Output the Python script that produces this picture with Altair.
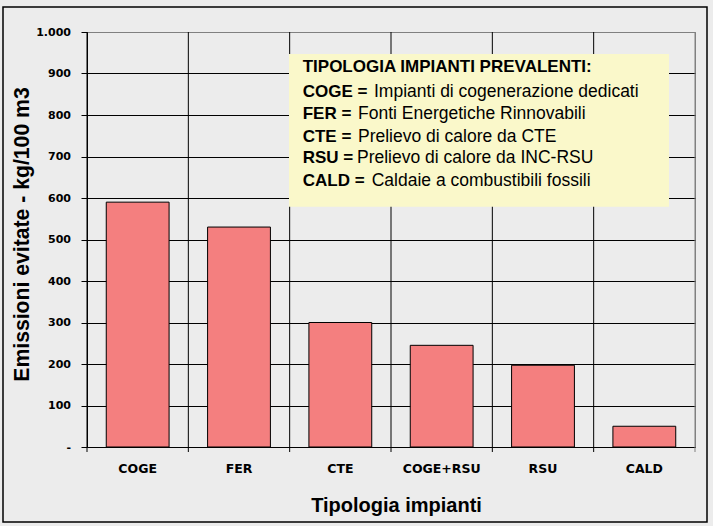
import altair as alt
import pandas as pd

# ---- data ----
categories = ["COGE", "FER", "CTE", "COGE+RSU", "RSU", "CALD"]
values = [590, 530, 300, 245, 197, 50]
y_ticks = [0, 100, 200, 300, 400, 500, 600, 700, 800, 900, 1000]
legend_bold = ["TIPOLOGIA IMPIANTI PREVALENTI:", "COGE =", "FER =", "CTE =", "RSU =", "CALD ="]
legend_rest = ["", "Impianti di cogenerazione dedicati", "Fonti Energetiche Rinnovabili",
               "Prelievo di calore da CTE", "Prelievo di calore da INC-RSU",
               "Caldaie a combustibili fossili"]
x_title = "Tipologia impianti"
y_title = "Emissioni evitate - kg/100 m3"

# ---- layout constants ----
W, H = 608, 415
legend_x0 = 215.7
legend_rest_x = [0, 287, 271, 271, 270, 284.7]
legend_base_y = [40.3, 64.7, 87, 109.7, 131.3, 153.7]

df = pd.DataFrame({"cat": categories, "val": values})
one = pd.DataFrame({"k": [0]})

AX_FONT = "DejaVu Sans"
TXT_FONT = "Liberation Sans"

rules = alt.Chart(df).mark_rule(color="black", strokeWidth=1).encode(
    x=alt.X("cat:N", sort=categories,
            scale=alt.Scale(domain=categories, paddingInner=0, paddingOuter=0),
            bandPosition=0, axis=None),
    y=alt.value(0),
    y2=alt.value(H + 5),
)

right_edge = alt.Chart(one).mark_rule(color="#808080", strokeWidth=1).encode(
    x=alt.value(W), y=alt.value(0), y2=alt.value(H + 5)
)

bars = alt.Chart(df).mark_bar(color="#F47F7F", stroke="black", strokeWidth=1).encode(
    x=alt.X("cat:N", sort=categories,
            scale=alt.Scale(domain=categories, paddingInner=0.38, paddingOuter=0.19),
            axis=alt.Axis(title=x_title, ticks=False, grid=False, domain=True,
                          domainColor="black", labelAngle=0,
                          labelFont=AX_FONT, labelFontWeight="bold", labelFontSize=12.5,
                          labelColor="black", labelBaseline="alphabetic", labelPadding=25.7,
                          titleFont=TXT_FONT, titleFontWeight="bold", titleFontSize=20,
                          titleColor="black", titleX=309, titleY=64.7,
                          titleBaseline="alphabetic", titleAlign="center")),
    y=alt.Y("val:Q",
            scale=alt.Scale(domain=[0, 1000], nice=False),
            axis=alt.Axis(title=y_title, values=y_ticks, grid=True,
                          gridColor=alt.condition("datum.value == 1000", alt.value("#808080"), alt.value("black")),
                          gridWidth=1, domainColor="black", tickColor="black",
                          tickSize=6, labelPadding=10.5,
                          labelExpr="datum.value == 0 ? '-' : replace(format(datum.value, ','), ',', '.')",
                          labelFont=AX_FONT, labelFontWeight="bold", labelFontSize=11,
                          labelColor="black",
                          titleFont=TXT_FONT, titleFontWeight="bold", titleFontSize=21.2,
                          titleColor="black", titleX=-58.5, titleY=202,
                          titleAngle=270, titleAlign="center", titleBaseline="alphabetic")),
)

box = alt.Chart(one).mark_rect(color="#FAF8CA").encode(
    x=alt.value(202), x2=alt.value(582), y=alt.value(22), y2=alt.value(174.7)
)

texts = []
for i in range(len(legend_bold)):
    texts.append(
        alt.Chart(pd.DataFrame({"t": [legend_bold[i]]})).mark_text(
            align="left", baseline="alphabetic", font=TXT_FONT, fontSize=17,
            fontWeight="bold", color="black"
        ).encode(x=alt.value(legend_x0), y=alt.value(legend_base_y[i]), text="t:N")
    )
    if legend_rest[i]:
        texts.append(
            alt.Chart(pd.DataFrame({"t": [legend_rest[i]]})).mark_text(
                align="left", baseline="alphabetic", font=TXT_FONT, fontSize=17.5,
                fontWeight="normal", color="black"
            ).encode(x=alt.value(legend_rest_x[i]), y=alt.value(legend_base_y[i]), text="t:N")
        )

border = alt.Chart(one).mark_rect(filled=False, stroke="black", strokeWidth=1.5).encode(
    x=alt.value(-84), x2=alt.value(620), y=alt.value(-25), y2=alt.value(490)
)

chart = alt.layer(rules, right_edge, bars, box, *texts, border).resolve_scale(
    x="independent"
).properties(
    width=W, height=H,
    autosize=alt.AutoSizeParams(type="none"),
    padding={"left": 87, "top": 32, "right": 18, "bottom": 79},
    background="#ECECEC",
).configure_view(stroke="#808080", strokeWidth=1, fill="#ECECEC")

chart.save("out.html", embed_options={"renderer": "svg", "actions": False})
